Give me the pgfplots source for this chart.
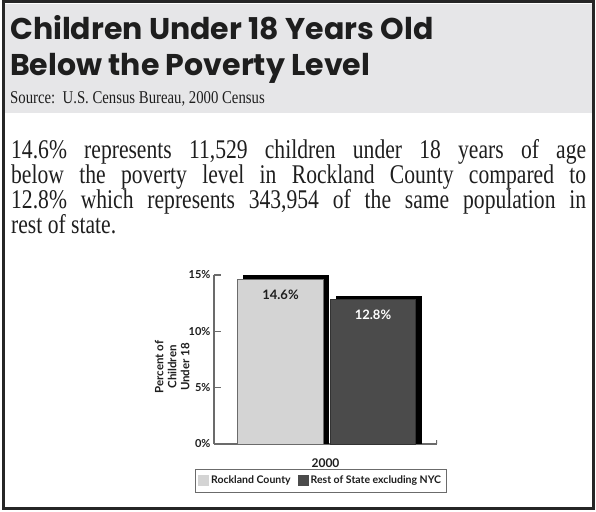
\documentclass[border=0pt]{standalone}
\usepackage{pgfplots}
\pgfplotsset{compat=1.18}
\usepackage{fontspec}
\newfontfamily\titlefont{Poppins}
\newfontfamily\bodyfont[FakeStretch=0.8]{Liberation Serif}
\newfontfamily\sourcefont[FakeStretch=0.82]{Liberation Serif}
\newfontfamily\chartfont{Lato}
\definecolor{frame}{HTML}{262626}
\definecolor{headgray}{HTML}{E6E6E8}
\definecolor{lightbar}{HTML}{D4D4D4}
\definecolor{darkbar}{HTML}{4B4B4B}
\definecolor{axisgray}{HTML}{6B6B6B}
\definecolor{ink}{HTML}{1E1E1E}
\begin{document}
\begin{tikzpicture}
\useasboundingbox (0pt,0pt) rectangle (596pt,511pt);
% header panel and frame
\fill[headgray] (5pt,398pt) rectangle (592pt,507pt);
\draw[frame, line width=2.6pt] (3.5pt,2.5pt) rectangle (593.5pt,509.5pt);

% title and source
\node[anchor=base west, inner sep=0pt, text=ink] at (10pt,471pt)
  {\titlefont\bfseries\fontsize{30}{33}\selectfont Children Under 18 Years Old};
\node[anchor=base west, inner sep=0pt, text=ink] at (10pt,435pt)
  {\titlefont\bfseries\fontsize{30}{33}\selectfont Below the Poverty Level};
\node[anchor=base west, inner sep=0pt, text=ink] at (10pt,407pt)
  {\sourcefont\fontsize{18}{20}\selectfont Source:\ \ U.S. Census Bureau, 2000 Census};

% body text, justified line by line
\begin{scope}[every node/.style={anchor=base west, inner sep=0pt, text=ink,
    font=\bodyfont\fontsize{27}{26}\selectfont}]
\node at (11pt,352pt) {\makebox[575pt][s]{14.6\% represents 11,529 children under 18 years of age}};
\node at (11pt,327pt) {\makebox[575pt][s]{below the poverty level in Rockland County compared to}};
\node at (11pt,302pt) {\makebox[575pt][s]{12.8\% which represents 343,954 of the same population in}};
\node at (11pt,277pt) {rest of state.};
\end{scope}

\begin{axis}[
    at={(214pt,67pt)}, anchor=origin,
    scale only axis,
    width=223pt, height=169pt,
    xmin=1999, xmax=2001,
    ymin=0, ymax=15,
    axis x line=bottom, axis y line=left,
    axis line style={-, axisgray, line width=1.2pt},
    xtick={2000},
    xticklabels={2000},
    x tick style={draw=none},
    xticklabel style={font=\chartfont\bfseries\fontsize{12}{13}\selectfont, text=ink, yshift=-4pt},
    ytick={0,5,10,15},
    yticklabel={\pgfmathprintnumber{\tick}\%},
    yticklabel style={font=\chartfont\bfseries\fontsize{11}{12}\selectfont, text=ink},
    /pgf/number format/assume math mode=true,
    y tick style={axisgray, line width=1.2pt},
    tick align=inside,
    major tick length=7pt,
    ylabel={Percent of\\Children\\Under 18},
    ylabel style={at={(axis description cs:-0.188,0.456)}, anchor=center,
      align=center, text=ink, font=\chartfont\bfseries\fontsize{11.5}{13}\selectfont},
    ybar,
    bar width=85.5pt,
    legend columns=2,
    legend style={at={(0.478,-0.218)}, anchor=center, draw=axisgray,
      line width=0.8pt, inner xsep=3pt, inner ysep=5pt,
      font=\chartfont\bfseries\fontsize{10.5}{12}\selectfont, text=ink,
      /tikz/every even column/.append style={column sep=5pt}},
    legend image code/.code={\fill[#1,draw=none] (0pt,-5.5pt) rectangle (11pt,5.5pt);},
  ]
  % drop shadows
  \addplot[fill=black, draw=none, bar shift=-39.5pt, forget plot]
    coordinates {(2000,14.97)};
  \addplot[fill=black, draw=none, bar shift=53.5pt, forget plot]
    coordinates {(2000,13.16)};
  % bars
  \addplot[fill=lightbar, draw=axisgray, line width=0.8pt, bar shift=-45pt,
    nodes near coords={\pgfmathprintnumber[fixed,precision=1,fixed zerofill]{\pgfplotspointmeta}\%},
    every node near coord/.append style={anchor=center, yshift=-15.5pt, text=ink,
      font=\chartfont\bfseries\fontsize{13}{14}\selectfont}]
    coordinates {(2000,14.6)};
  \addplot[fill=darkbar, draw=black!80, line width=0.8pt, bar shift=47.5pt,
    nodes near coords={\pgfmathprintnumber[fixed,precision=1,fixed zerofill]{\pgfplotspointmeta}\%},
    every node near coord/.append style={anchor=center, yshift=-15.5pt, text=white,
      font=\chartfont\bfseries\fontsize{13}{14}\selectfont}]
    coordinates {(2000,12.8)};
  \legend{Rockland County, Rest of State excluding NYC}
  \draw[axisgray, line width=1.2pt] (rel axis cs:1,0) -- ++(0pt,4pt);
\end{axis}
\end{tikzpicture}
\end{document}
